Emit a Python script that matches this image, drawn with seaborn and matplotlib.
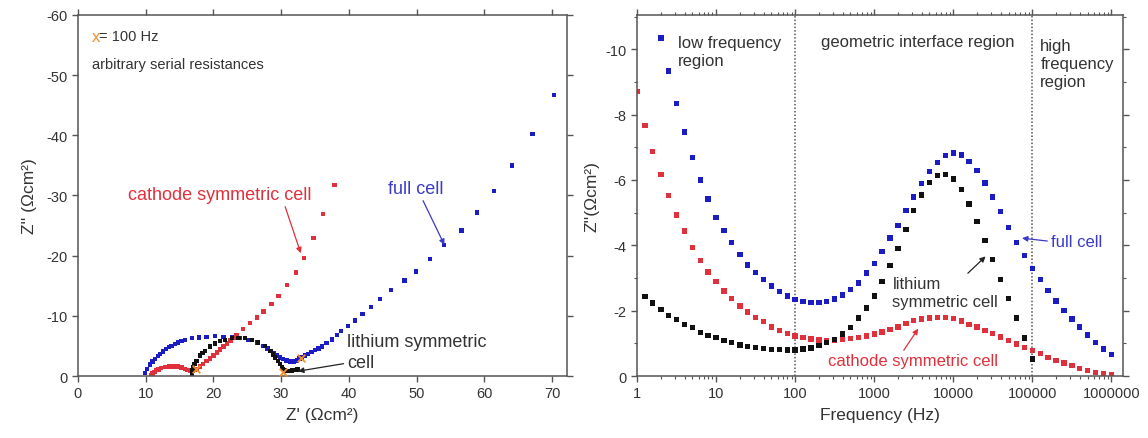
import numpy as np
import pandas as pd
import seaborn as sns
import matplotlib.pyplot as plt
from matplotlib.ticker import MultipleLocator, LogLocator, NullFormatter, FuncFormatter

nan = np.nan

# Nyquist plot (left): Z' and Z'' in Ohm cm^2
full_re = [9.9, 10.2, 10.6, 11.0, 11.4, 11.8, 12.1, 12.6, 13.0, 13.4, 13.8, 14.3, 14.8, 15.3,
           15.8, 16.8, 17.9, 19.0, 20.2, 21.5, 22.7, 23.9, 25.2, 26.4, 27.4, 28.0, 28.4, 28.9,
           29.3, 29.8, 30.3, 30.8, 31.3, 31.8, 32.3, 32.7, 33.0, 33.5, 34.0, 34.5, 35.0, 35.5,
           36.0, 36.7, 37.5, 38.2, 38.8, 39.9, 40.9, 42.0, 43.3, 44.6, 46.2, 48.2, 49.9, 52.0,
           54.0, 56.6, 58.9, 61.4, 64.1, 67.1, 70.3]
full_im = [-0.5, -1.2, -1.9, -2.4, -2.8, -3.3, -3.7, -4.1, -4.5, -4.8, -5.0, -5.3, -5.6, -5.8,
           -6.0, -6.3, -6.4, -6.5, -6.6, -6.5, -6.4, -6.3, -6.0, -5.6, -5.0, -4.6, -4.2, -3.8,
           -3.4, -3.1, -2.8, -2.6, -2.4, -2.4, -2.6, -2.9, -3.1, -3.4, -3.7, -4.0, -4.3, -4.6,
           -4.9, -5.5, -6.1, -6.8, -7.5, -8.3, -9.2, -10.3, -11.5, -12.8, -14.3, -15.9, -17.4, -19.4,
           -21.8, -24.2, -27.2, -30.7, -35.0, -40.2, -46.7]

cathode_re = [10.8, 11.0, 11.3, 11.6, 11.9, 12.3, 12.9, 13.4, 13.8, 14.3, 14.8, 15.3, 15.8, 16.2,
              16.5, 16.9, 17.2, 17.5, 18.0, 18.5, 19.0, 19.5, 20.0, 20.5, 21.0, 21.5, 22.0, 22.5,
              23.0, 23.4, 24.4, 25.4, 26.4, 27.4, 28.6, 29.6, 30.9, 32.2, 33.4, 34.8, 36.2, 37.9]
cathode_im = [-0.1, -0.4, -0.7, -0.95, -1.1, -1.3, -1.45, -1.55, -1.6, -1.6, -1.55, -1.4, -1.2, -1.0,
              -0.9, -0.95, -1.05, -1.2, -1.6, -2.0, -2.5, -2.9, -3.4, -3.9, -4.4, -4.9, -5.4, -5.9,
              -6.3, -6.8, -7.8, -8.8, -9.75, -10.7, -12.0, -13.3, -15.1, -17.2, -19.6, -22.9, -26.9, -31.7]

lithium_re = [16.8, 16.9, 17.0, 17.2, 17.5, 18.0, 18.4, 18.8, 19.5, 20.2, 21.0, 21.7, 22.7, 23.7,
              24.7, 25.7, 26.6, 27.6, 28.4, 28.8, 29.1, 29.5, 29.8, 30.1, 30.3, 30.6, 31.0, 31.6,
              32.0, 32.4]
lithium_im = [-0.3, -0.9, -1.4, -2.0, -2.5, -3.4, -3.8, -4.2, -4.9, -5.4, -5.8, -6.0, -6.3, -6.3,
              -6.3, -6.0, -5.6, -5.0, -4.2, -3.6, -3.1, -2.5, -2.0, -1.5, -1.2, -0.9, -0.85, -0.9,
              -1.0, -1.05]

# points at 100 Hz (orange crosses)
hz100_re = [17.4, 30.2, 33.0]
hz100_im = [-1.1, -0.6, -3.0]

# Z'' vs frequency (right)
freq_hz = [1, 1.26, 1.58, 2.0, 2.51, 3.16, 3.98, 5.01, 6.31, 7.94,
           10, 12.6, 15.8, 20.0, 25.1, 31.6, 39.8, 50.1, 63.1, 79.4,
           100, 126, 158, 200, 251, 316, 398, 501, 631, 794,
           1000, 1260, 1580, 2000, 2510, 3160, 3980, 5010, 6310, 7940,
           10000, 12600, 15800, 20000, 25100, 31600, 39800, 50100, 63100, 79400,
           100000, 126000, 158000, 200000, 251000, 316000, 398000, 501000, 631000, 794000,
           1000000]
full_zim = [nan, nan, nan, -10.35, -9.33, -8.34, -7.47, -6.69, -6.00, -5.42,
            -4.86, -4.45, -4.08, -3.71, -3.40, -3.17, -2.95, -2.75, -2.58, -2.45,
            -2.35, -2.28, -2.25, -2.25, -2.28, -2.36, -2.48, -2.65, -2.85, -3.15,
            -3.45, -3.82, -4.22, -4.61, -5.07, -5.48, -5.89, -6.25, -6.54, -6.75,
            -6.82, -6.76, -6.57, -6.29, -5.91, -5.48, -5.04, -4.55, -4.09, -3.68,
            -3.29, -2.95, -2.61, -2.30, -2.01, -1.75, -1.50, -1.26, -1.02, -0.83,
            -0.65]
cathode_zim = [-8.70, -7.66, -6.88, -6.16, -5.52, -4.93, -4.44, -3.94, -3.53, -3.18,
               -2.89, -2.60, -2.38, -2.14, -1.96, -1.80, -1.66, -1.50, -1.40, -1.30,
               -1.23, -1.17, -1.13, -1.10, -1.09, -1.09, -1.12, -1.15, -1.18, -1.22,
               -1.29, -1.35, -1.43, -1.50, -1.60, -1.70, -1.74, -1.78, -1.79, -1.79,
               -1.76, -1.68, -1.57, -1.50, -1.40, -1.30, -1.19, -1.09, -0.98, -0.88,
               -0.78, -0.68, -0.57, -0.47, -0.40, -0.32, -0.23, -0.16, -0.11, -0.06,
               -0.03]
lithium_zim = [nan, -2.44, -2.23, -2.04, -1.85, -1.73, -1.58, -1.49, -1.34, -1.24,
               -1.18, -1.09, -1.02, -0.95, -0.90, -0.87, -0.84, -0.82, -0.81, -0.80,
               -0.80, -0.83, -0.86, -0.93, -1.02, -1.11, -1.29, -1.48, -1.78, -2.08,
               -2.45, -2.90, -3.38, -3.91, -4.49, -5.06, -5.54, -5.93, -6.13, -6.17,
               -6.03, -5.70, -5.26, -4.73, -4.14, -3.57, -2.95, -2.37, -1.77, -1.16,
               -0.52, nan, nan, nan, nan, nan, nan, nan, nan, nan,
               nan]

region_edges_hz = [100, 100000]

cell_colors = {'full cell': '#1c1cc4', 'cathode symmetric cell': '#e0303c',
               'lithium symmetric cell': '#111111'}
text_blue = '#3a3acc'
text_red = '#e0303c'
text_grey = '#333333'

sns.set_theme(style='ticks')
plt.rcParams['font.family'] = ['Liberation Sans', 'DejaVu Sans']
plt.rcParams['axes.unicode_minus'] = False

nyq = pd.concat([
    pd.DataFrame({'re': full_re, 'im': full_im, 'cell': 'full cell'}),
    pd.DataFrame({'re': cathode_re, 'im': cathode_im, 'cell': 'cathode symmetric cell'}),
    pd.DataFrame({'re': lithium_re, 'im': lithium_im, 'cell': 'lithium symmetric cell'}),
])
bode = pd.concat([
    pd.DataFrame({'f': freq_hz, 'zim': full_zim, 'cell': 'full cell'}),
    pd.DataFrame({'f': freq_hz, 'zim': cathode_zim, 'cell': 'cathode symmetric cell'}),
    pd.DataFrame({'f': freq_hz, 'zim': lithium_zim, 'cell': 'lithium symmetric cell'}),
]).dropna()

fig = plt.figure(figsize=(11.48, 4.39), dpi=100)
ax1 = fig.add_axes([0.0679, 0.1412, 0.426, 0.8224])
ax2 = fig.add_axes([0.5549, 0.1412, 0.4233, 0.8224])

# ---- left: Nyquist ----
sns.scatterplot(data=nyq, x='re', y='im', hue='cell', palette=cell_colors, marker='s',
                s=10, linewidth=0, legend=False, ax=ax1)
ax1.scatter(hz100_re, hz100_im, marker='x', s=30, color='#f0902a', linewidths=1.3, zorder=5)
ax1.set_xlim(0, 72.2)
ax1.set_ylim(0, -60)
ax1.xaxis.set_major_locator(MultipleLocator(10))
ax1.yaxis.set_major_locator(MultipleLocator(10))
ax1.set_xlabel("Z' (\u03a9cm\u00b2)", fontsize=12.5, color=text_grey, labelpad=5)
ax1.set_ylabel("Z'' (\u03a9cm\u00b2)", fontsize=12.5, color=text_grey, labelpad=7)

ax1.text(2.1, -56.5, 'x', color='#f0902a', fontsize=12, va='center')
ax1.text(3.1, -56.5, '= 100 Hz', color=text_grey, fontsize=10.5, va='center')
ax1.text(2.1, -51.9, 'arbitrary serial resistances', color=text_grey, fontsize=10.5, va='center')

arrow = dict(arrowstyle='-|>', lw=0.9, mutation_scale=8, shrinkA=0, shrinkB=0)
ax1.annotate('cathode symmetric cell', xy=(32.9, -20.4), xytext=(7.4, -30.1),
             color=text_red, fontsize=13, va='center', ha='left',
             arrowprops=dict(arrow, color=text_red, relpos=(0.85, 0.0)))
ax1.annotate('full cell', xy=(54.1, -21.8), xytext=(45.8, -31.1),
             color=text_blue, fontsize=13, va='center', ha='left',
             arrowprops=dict(arrow, color=text_blue, relpos=(0.6, 0.0)))
ax1.annotate('lithium symmetric\ncell', xy=(32.5, -0.8), xytext=(39.7, -4.0),
             color=text_grey, fontsize=13, va='center', ha='left', linespacing=1.25,
             arrowprops=dict(arrow, color='#222222', relpos=(0.0, 0.2)))

# ---- right: Z'' vs frequency ----
sns.scatterplot(data=bode, x='f', y='zim', hue='cell', palette=cell_colors, marker='s',
                s=15, linewidth=0, legend=False, ax=ax2)
for edge in region_edges_hz:
    ax2.axvline(edge, color='#555555', ls=(0, (1, 1.3)), lw=1.1, zorder=0)
ax2.set_xscale('log')
ax2.set_xlim(1, 1.4e6)
ax2.set_ylim(0, -11.05)
ax2.xaxis.set_major_locator(LogLocator(base=10, numticks=10))
ax2.xaxis.set_minor_locator(LogLocator(base=10, subs=np.arange(2, 10), numticks=20))
ax2.xaxis.set_minor_formatter(NullFormatter())
ax2.xaxis.set_major_formatter(FuncFormatter(lambda v, _: f'{v:.0f}'))
ax2.yaxis.set_major_locator(MultipleLocator(2))
ax2.yaxis.set_minor_locator(MultipleLocator(1))
ax2.set_xlabel('Frequency (Hz)', fontsize=12.5, color=text_grey, labelpad=5)
ax2.set_ylabel("Z''(\u03a9cm\u00b2)", fontsize=12.5, color=text_grey, labelpad=4)

ax2.text(3.3, -9.92, 'low frequency\nregion', color=text_grey, fontsize=12, va='center',
         linespacing=1.25)
ax2.text(213, -10.25, 'geometric interface region', color=text_grey, fontsize=12, va='center')
ax2.text(1.26e5, -9.57, 'high\nfrequency\nregion', color=text_grey, fontsize=12, va='center',
         linespacing=1.25)
ax2.annotate('full cell', xy=(7.4e4, -4.22), xytext=(1.7e5, -4.12),
             color=text_blue, fontsize=12, va='center', ha='left',
             arrowprops=dict(arrow, color=text_blue, relpos=(0.0, 0.5)))
ax2.annotate('lithium\nsymmetric cell', xy=(2.56e4, -3.66), xytext=(1700, -2.55),
             color=text_grey, fontsize=12, va='center', ha='left', linespacing=1.2,
             arrowprops=dict(arrow, color='#222222', relpos=(0.6, 0.75)))
ax2.annotate('cathode symmetric cell', xy=(3600, -1.45), xytext=(262, -0.46),
             color=text_red, fontsize=12, va='center', ha='left',
             arrowprops=dict(arrow, color=text_red, relpos=(0.42, 0.8)))

for ax in (ax1, ax2):
    for side in ax.spines.values():
        side.set_color('#555555')
        side.set_linewidth(1.1)
    ax.tick_params(which='both', direction='out', top=True, right=True,
                   color='#555555', labelcolor=text_grey, labelsize=10.5)
    ax.tick_params(which='major', length=4, width=1)
    ax.tick_params(which='minor', length=2.5, width=0.8)

fig.savefig('out.png', dpi=100)
